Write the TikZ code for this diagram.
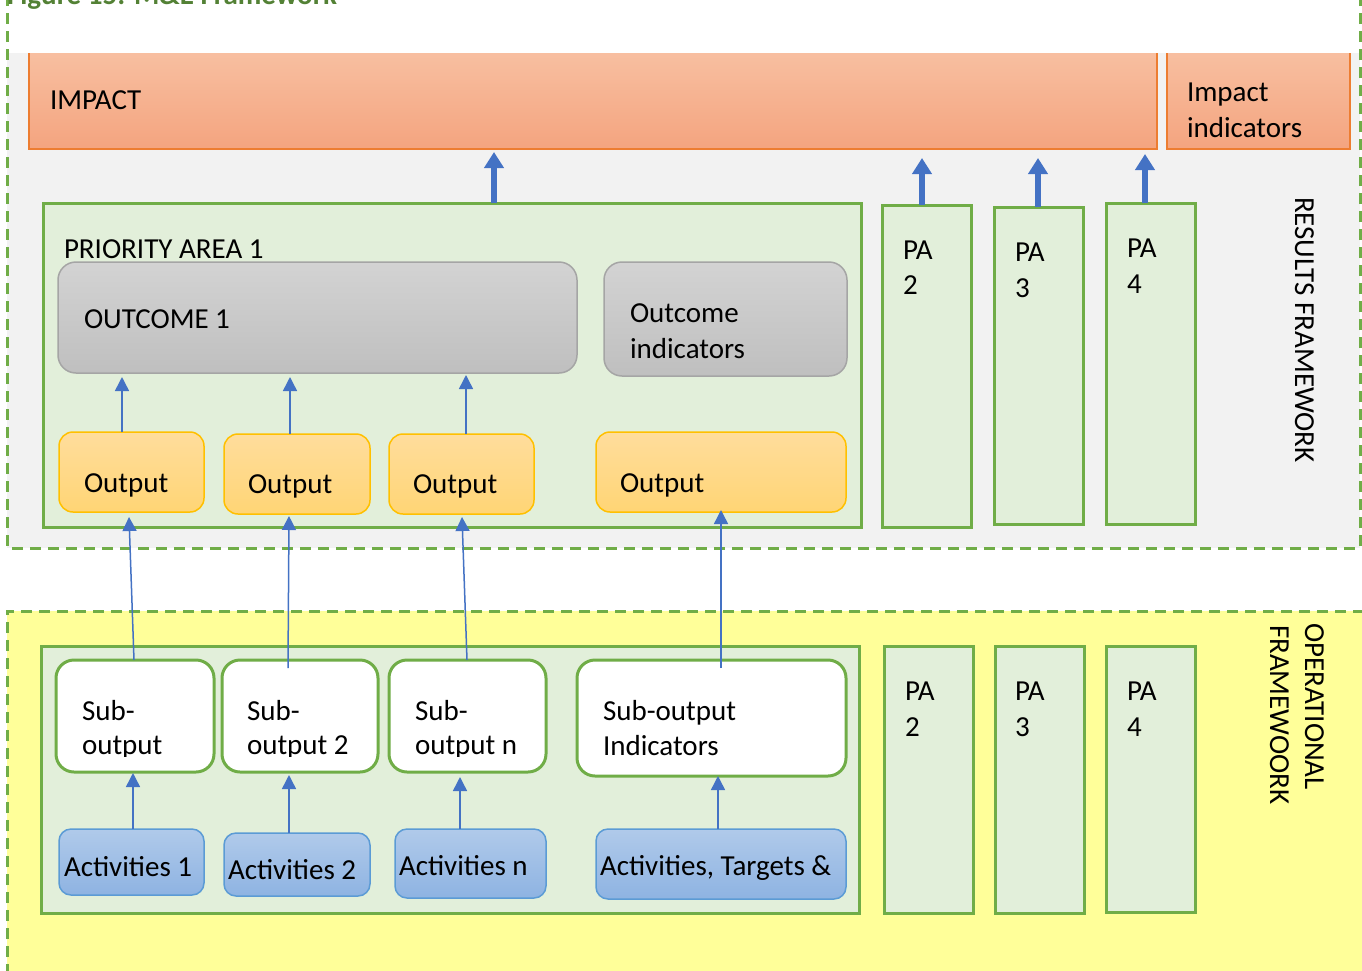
\documentclass[tikz,border=0pt]{standalone}
\usepackage{fontspec}
\setmainfont{Carlito}
\usetikzlibrary{arrows.meta}
\definecolor{grn}{HTML}{70AD47}
\definecolor{grnfill}{HTML}{E2EFDA}
\definecolor{bgray}{HTML}{F2F2F2}
\definecolor{ylw}{HTML}{FFFF99}
\definecolor{org}{HTML}{ED7D31}
\definecolor{orgtop}{HTML}{F8C1A3}
\definecolor{orgbot}{HTML}{F4A47F}
\definecolor{gtop}{HTML}{D3D3D3}
\definecolor{gbot}{HTML}{BFBFBF}
\definecolor{gline}{HTML}{A5A5A5}
\definecolor{otop}{HTML}{FFDD9C}
\definecolor{obot}{HTML}{FFD575}
\definecolor{oline}{HTML}{FFC000}
\definecolor{btop}{HTML}{B0CAEA}
\definecolor{bbot}{HTML}{8EB3E2}
\definecolor{bline}{HTML}{5B9BD5}
\definecolor{arr}{HTML}{4472C4}
\definecolor{ttl}{HTML}{538135}
\newcommand\bx[6]{\node[#6, minimum width={#4-#2}, minimum height={#5-#3}] (#1) at ({(#2+#4)/2},{(#3+#5)/2}) {};}
\newcommand\tx[4]{\node[txt] (#1) at (#2,#3) {#4};}
\begin{document}
\begin{tikzpicture}[x=1pt,y=-1pt,
  every node/.style={inner sep=0pt, outer sep=0pt},
  txt/.style={anchor=base west, font=\fontsize{29}{34}\selectfont},
  impbox/.style={draw=org, line width=1.5pt, top color=orgtop, bottom color=orgbot},
  pabox/.style={draw=grn, line width=3pt, fill=grnfill},
  outc/.style={draw=gline, line width=1.5pt, rounded corners=18pt, top color=gtop, bottom color=gbot},
  outp/.style={draw=oline, line width=1.5pt, rounded corners=14pt, top color=otop, bottom color=obot},
  subo/.style={draw=grn, line width=3pt, rounded corners=18pt, fill=white},
  actv/.style={draw=bline, line width=1.5pt, rounded corners=12pt, top color=btop, bottom color=bbot},
  bigarr/.style={arr, line width=6pt, -{Triangle[width=19pt,length=16pt]}},
  thinarr/.style={arr, line width=1.5pt, -{Triangle[width=14pt,length=14pt]}},
  zone/.style={grn, line width=3pt, dash pattern=on 11pt off 7pt}]
\clip (0,0) rectangle (1362,970);
% backgrounds
\fill[white] (0,0) rectangle (1362,970);
\fill[bgray] (7,53) rectangle (1360,548);
\fill[ylw] (7,611) rectangle (1370,975);
% results framework
\bx{impact}{29}{45}{1157}{149}{impbox}
\bx{impind}{1167}{45}{1350}{149}{impbox}
\fill[white] (0,-5) rectangle (1362,53);
\draw[zone] (7,-5) -- (7,548) -- (1360,548) -- (1360,-5);
\draw[zone] (7,975) -- (7,611) -- (1370,611);
\node[anchor=base west, font=\fontsize{29}{34}\selectfont\bfseries, text=ttl] (title) at (7,4) {Figure 15: M\&E Framework};
\bx{pa1}{43}{203}{861}{527}{pabox}
\bx{outc1}{58}{262}{577}{373}{outc}
\bx{outi}{604}{262}{847}{376}{outc}
\bx{o1}{59}{432}{204}{512}{outp}
\bx{o2}{224}{434}{370}{514}{outp}
\bx{o3}{389}{434}{534}{514}{outp}
\bx{o4}{596}{432}{846}{512}{outp}
\bx{pa2}{882}{205}{971}{527}{pabox}
\bx{pa3}{994}{207}{1083}{524}{pabox}
\bx{pa4}{1106}{203}{1195}{524}{pabox}
% operational framework
\bx{opa1}{41}{646}{859}{913}{pabox}
\bx{s1}{56}{660}{214}{772}{subo}
\bx{s2}{222}{660}{378}{772}{subo}
\bx{s3}{389}{660}{546}{772}{subo}
\bx{s4}{577}{660}{846}{776}{subo}
\bx{a1}{59}{829}{204}{895}{actv}
\bx{a2}{224}{833}{370}{896}{actv}
\bx{a3}{395}{829}{546}{898}{actv}
\bx{a4}{596}{829}{846}{899}{actv}
\bx{opa2}{884}{646}{973}{913}{pabox}
\bx{opa3}{995}{646}{1084}{913}{pabox}
\bx{opa4}{1106}{646}{1195}{912}{pabox}
% texts
\tx{timp}{50}{109}{IMPACT}
\tx{tii1}{1187}{101}{Impact}
\tx{tii2}{1187}{137}{indicators}
\tx{tpa1}{64}{258}{PRIORITY AREA 1}
\tx{toc}{84}{328}{OUTCOME 1}
\tx{toi1}{630}{322}{Outcome}
\tx{toi2}{630}{358}{indicators}
\tx{to1}{84}{492}{Output}
\tx{to2}{248}{493}{Output}
\tx{to3}{413}{493}{Output}
\tx{to4}{620}{492}{Output}
\tx{tp2a}{903}{259}{PA}
\tx{tp2b}{903}{294}{2}
\tx{tp3a}{1015}{261}{PA}
\tx{tp3b}{1015}{297}{3}
\tx{tp4a}{1127}{257}{PA}
\tx{tp4b}{1127}{293}{4}
\node[txt, rotate=-90] (trf) at (1295,197) {RESULTS FRAMEWORK};
\begin{scope}
\clip (50,640) rectangle (560,756);
\tx{ts1a}{82}{720}{Sub-}
\tx{ts1b}{82}{754}{output}
\tx{ts2a}{247}{720}{Sub-}
\tx{ts2b}{247}{754}{output 2}
\tx{ts3a}{415}{720}{Sub-}
\tx{ts3b}{415}{754}{output n}
\end{scope}
\tx{ts4a}{603}{720}{Sub-output}
\tx{ts4b}{603}{755}{Indicators}
\tx{ta1}{64}{876}{Activities 1}
\tx{ta2}{228}{879}{Activities 2}
\tx{ta3}{399}{875}{Activities n}
\tx{ta4}{600}{875}{Activities, Targets \&}
\tx{tq2a}{905}{700}{PA}
\tx{tq2b}{905}{736}{2}
\tx{tq3a}{1015}{700}{PA}
\tx{tq3b}{1015}{736}{3}
\tx{tq4a}{1127}{700}{PA}
\tx{tq4b}{1127}{736}{4}
\node[txt, rotate=-90] (top1) at (1305,623) {OPERATIONAL};
\node[txt, rotate=-90] (top2) at (1270,625) {FRAMEWOORK};
% big arrows
\draw[bigarr] ([xshift=42pt]pa1.north) -- ([xshift=-99pt,yshift=-3pt]impact.south);
\draw[bigarr] ([xshift=-4.5pt]pa2.north) -- ([xshift=329pt,yshift=-9pt]impact.south);
\draw[bigarr] ([xshift=-0.5pt]pa3.north) -- ([xshift=445pt,yshift=-9pt]impact.south);
\draw[bigarr] ([xshift=-5.5pt]pa4.north) -- ([xshift=552pt,yshift=-5pt]impact.south);
% outputs to outcome
\draw[thinarr] ([xshift=-9.5pt]o1.north) -- ([xshift=-195.5pt,yshift=-4pt]outc1.south);
\draw[thinarr] ([xshift=-7pt]o2.north) -- ([xshift=-27.5pt,yshift=-4pt]outc1.south);
\draw[thinarr] ([xshift=4.5pt]o3.north) -- ([xshift=148.5pt,yshift=-2pt]outc1.south);
% sub-outputs to outputs
\draw[thinarr] ([xshift=-1pt]s1.north) -- ([xshift=-2.5pt,yshift=-5pt]o1.south);
\draw[thinarr] ([xshift=-12pt,yshift=-8pt]s2.north) -- ([xshift=-8pt,yshift=-2pt]o2.south);
\draw[thinarr] ([xshift=-0.5pt]s3.north) -- ([xshift=0.5pt,yshift=-3pt]o3.south);
\draw[thinarr] ([xshift=9.5pt,yshift=-8pt]s4.north) -- ([yshift=2pt]o4.south);
% activities to sub-outputs
\draw[thinarr] ([xshift=1.5pt]a1.north) -- ([xshift=-2pt,yshift=-1pt]s1.south);
\draw[thinarr] ([xshift=-8pt]a2.north) -- ([xshift=-11pt,yshift=-3pt]s2.south);
\draw[thinarr] ([xshift=-10.5pt]a3.north) -- ([xshift=-7.5pt,yshift=-5pt]s3.south);
\draw[thinarr] ([xshift=-3pt]a4.north) -- ([xshift=6.5pt]s4.south);
\end{tikzpicture}
\end{document}
